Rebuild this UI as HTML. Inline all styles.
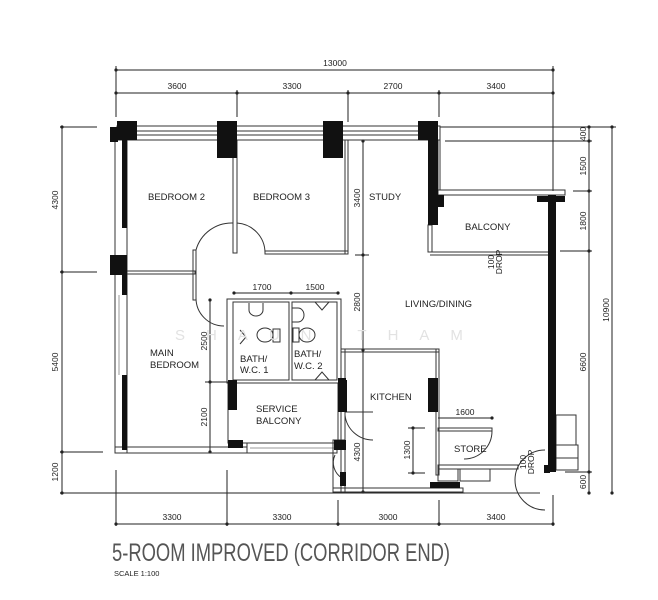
<!DOCTYPE html>
<html><head><meta charset="utf-8"><style>
html,body{margin:0;padding:0;background:#fff;}
svg{display:block}
text{font-family:"Liberation Sans",sans-serif;fill:#222}
</style></head><body>
<svg width="658" height="600" viewBox="0 0 658 600" xmlns="http://www.w3.org/2000/svg">
<g stroke="#222" stroke-width="1" fill="none">
<line x1="116" y1="70" x2="553" y2="70"/>
<line x1="116" y1="93" x2="553" y2="93"/>
<line x1="116" y1="66" x2="116" y2="117"/>
<line x1="237" y1="90" x2="237" y2="117"/>
<line x1="348" y1="90" x2="348" y2="122"/>
<line x1="439" y1="90" x2="439" y2="117"/>
<line x1="553" y1="66" x2="553" y2="191"/>
<line x1="116" y1="524" x2="553" y2="524"/>
<line x1="116" y1="470" x2="116" y2="526"/>
<line x1="227" y1="470" x2="227" y2="526"/>
<line x1="338" y1="500" x2="338" y2="526"/>
<line x1="439" y1="500" x2="439" y2="526"/>
<line x1="553" y1="495" x2="553" y2="526"/>
<line x1="62" y1="127" x2="62" y2="493"/>
<line x1="60" y1="127" x2="97" y2="127"/>
<line x1="60" y1="272" x2="97" y2="272"/>
<line x1="60" y1="452" x2="103" y2="452"/>
<line x1="60" y1="493" x2="540" y2="493"/>
<line x1="589" y1="127" x2="589" y2="493"/>
<line x1="612" y1="127" x2="612" y2="493"/>
<line x1="440" y1="127" x2="616" y2="127"/>
<line x1="445" y1="141" x2="592" y2="141"/>
<line x1="573" y1="191" x2="592" y2="191"/>
<line x1="560" y1="251" x2="592" y2="251"/>
<line x1="565" y1="472" x2="592" y2="472"/>
<line x1="363" y1="141" x2="363" y2="492"/>
<line x1="355" y1="255" x2="369" y2="255"/>
<line x1="210" y1="300" x2="210" y2="452"/>
<line x1="205" y1="382" x2="228" y2="382"/>
<line x1="234" y1="293" x2="338" y2="293"/>
<line x1="438" y1="418" x2="492" y2="418"/>
<line x1="413" y1="428" x2="413" y2="473"/>
<line x1="408" y1="428" x2="425" y2="428"/>
<line x1="408" y1="473" x2="425" y2="473"/>
</g>
<g fill="#222">
<circle cx="116" cy="70" r="1.6"/><circle cx="553" cy="70" r="1.6"/>
<circle cx="116" cy="93" r="1.6"/><circle cx="237" cy="93" r="1.6"/><circle cx="348" cy="93" r="1.6"/><circle cx="439" cy="93" r="1.6"/><circle cx="553" cy="93" r="1.6"/>
<circle cx="116" cy="524" r="1.6"/><circle cx="227" cy="524" r="1.6"/><circle cx="338" cy="524" r="1.6"/><circle cx="439" cy="524" r="1.6"/><circle cx="553" cy="524" r="1.6"/>
<circle cx="62" cy="127" r="1.6"/><circle cx="62" cy="272" r="1.6"/><circle cx="62" cy="452" r="1.6"/><circle cx="62" cy="493" r="1.6"/>
<circle cx="589" cy="127" r="1.6"/><circle cx="589" cy="141" r="1.6"/><circle cx="589" cy="191" r="1.6"/><circle cx="589" cy="251" r="1.6"/><circle cx="589" cy="472" r="1.6"/><circle cx="589" cy="493" r="1.6"/>
<circle cx="612" cy="127" r="1.6"/><circle cx="612" cy="493" r="1.6"/>
<circle cx="363" cy="141" r="1.6"/><circle cx="363" cy="255" r="1.6"/><circle cx="363" cy="350" r="1.6"/><circle cx="363" cy="492" r="1.6"/>
<circle cx="210" cy="300" r="1.6"/><circle cx="210" cy="382" r="1.6"/><circle cx="210" cy="452" r="1.6"/>
<circle cx="234" cy="293" r="1.6"/><circle cx="291" cy="293" r="1.6"/><circle cx="338" cy="293" r="1.6"/>
<circle cx="492" cy="418" r="1.6"/><circle cx="413" cy="428" r="1.6"/><circle cx="413" cy="473" r="1.6"/>
</g>
<g stroke="#333" stroke-width="1" fill="none">
<rect x="117" y="126" width="323" height="14"/>
<line x1="137" y1="131" x2="418" y2="131"/><line x1="137" y1="135" x2="418" y2="135"/>
<rect x="115" y="140" width="12" height="313"/>
<line x1="119" y1="295" x2="119" y2="375" stroke="#999"/>
<rect x="115" y="447" width="132" height="6"/>
<rect x="247" y="443" width="90" height="10"/>
<line x1="250" y1="448" x2="334" y2="448" stroke="#999"/>
<rect x="233" y="140" width="4" height="113"/>
<rect x="127" y="271" width="68" height="3"/>
<rect x="193" y="250" width="3" height="50"/>
<rect x="265" y="251" width="83" height="3"/>
<rect x="345" y="140" width="3" height="114"/>
<rect x="227" y="299" width="114" height="84"/>
<rect x="233" y="302" width="56" height="78"/>
<rect x="292" y="302" width="45" height="78"/>
<rect x="228" y="383" width="110" height="60"/>
<rect x="341" y="349" width="98" height="3"/>
<rect x="341" y="349" width="4" height="143"/>
<rect x="436" y="349" width="3" height="126"/>
<rect x="333" y="440" width="12" height="52"/>
<rect x="333" y="488" width="130" height="4"/>
<rect x="438" y="428" width="54" height="3"/>
<rect x="438" y="465" width="80" height="4"/>
<rect x="438" y="469" width="20" height="12"/>
<rect x="460" y="469" width="30" height="12"/>
<line x1="465" y1="493" x2="540" y2="493"/>
<rect x="438" y="190" width="127" height="5"/>
<rect x="438" y="140" width="2" height="50"/>
<rect x="428" y="225" width="4" height="27"/>
<line x1="430" y1="252" x2="550" y2="252"/>
<line x1="430" y1="255" x2="550" y2="255"/>
<rect x="556" y="415" width="20" height="30"/>
<rect x="556" y="445" width="22" height="25"/>
<line x1="556" y1="458" x2="578" y2="458"/>
<!-- fixtures -->
<path d="M249 303 L249 310 A7 6 0 0 0 263 310 L263 303"/>
<ellipse cx="265" cy="335" rx="8" ry="7"/>
<rect x="273" y="329" width="7" height="13"/>
<path d="M240 330 L246 337 L240 344"/>
<path d="M292 308 L298 308 A6 7 0 0 1 298 322 L292 322"/>
<ellipse cx="307" cy="335" rx="8" ry="7"/>
<rect x="293" y="328" width="6" height="14"/>
<path d="M315 302 L322 310 L329 302"/>
<path d="M315 380 L322 372 L329 380"/>
</g>
<g stroke="#333" stroke-width="1" fill="none">
<path d="M196 250 A37 37 0 0 1 233 223 L233 253"/>
<path d="M237 223 A30 30 0 0 1 265 253"/>
<path d="M196 298 A28 28 0 0 0 224 326"/>
<path d="M345 415 A28 28 0 0 0 373 440"/>
<line x1="345" y1="412" x2="373" y2="412"/>
<path d="M492 431 A28 28 0 0 1 464 459"/>
<path d="M545 450 A30 30 0 0 0 515 480 A30 30 0 0 0 545 510"/>
<path d="M335 455 A18 18 0 0 0 342 478"/>
</g>
<g fill="#111">
<rect x="117" y="121" width="20" height="19"/><rect x="110" y="127" width="8" height="15"/>
<rect x="217" y="121" width="20" height="37"/>
<rect x="323" y="121" width="20" height="37"/>
<rect x="418" y="121" width="20" height="19"/>
<rect x="428" y="140" width="10" height="85"/>
<rect x="434" y="195" width="10" height="12"/>
<rect x="122" y="140" width="5" height="88"/>
<rect x="110" y="255" width="17" height="20"/>
<rect x="122" y="275" width="5" height="20"/>
<rect x="122" y="375" width="5" height="75"/>
<rect x="228" y="380" width="9" height="30"/>
<rect x="338" y="380" width="9" height="32"/>
<rect x="228" y="440" width="15" height="8"/>
<rect x="334" y="440" width="12" height="10"/>
<rect x="338" y="378" width="8" height="34"/>
<rect x="428" y="378" width="10" height="34"/>
<rect x="340" y="472" width="6" height="14"/>
<rect x="430" y="482" width="30" height="6"/>
<rect x="548" y="195" width="8" height="277"/>
<rect x="537" y="196" width="28" height="6"/>
<rect x="544" y="465" width="6" height="8"/>
</g>
<text x="175" y="340" font-size="15" style="fill:#e2e2e2;letter-spacing:21px">SHAUN THAM</text>
<g font-size="9.5">
<text x="148" y="200">BEDROOM 2</text>
<text x="253" y="200">BEDROOM 3</text>
<text x="369" y="200">STUDY</text>
<text x="465" y="230">BALCONY</text>
<text x="405" y="307">LIVING/DINING</text>
<text x="150" y="356">MAIN</text>
<text x="150" y="368">BEDROOM</text>
<text x="240" y="362">BATH/</text>
<text x="240" y="373">W.C.  1</text>
<text x="294" y="357">BATH/</text>
<text x="294" y="369">W.C.  2</text>
<text x="256" y="412">SERVICE</text>
<text x="256" y="424">BALCONY</text>
<text x="370" y="400">KITCHEN</text>
<text x="454" y="452">STORE</text>
</g>
<g font-size="8.5" text-anchor="middle">
<text x="335" y="66">13000</text>
<text x="177" y="89">3600</text>
<text x="292" y="89">3300</text>
<text x="393" y="89">2700</text>
<text x="496" y="89">3400</text>
<text x="172" y="520">3300</text>
<text x="282" y="520">3300</text>
<text x="388" y="520">3000</text>
<text x="496" y="520">3400</text>
<text x="262" y="290">1700</text>
<text x="315" y="290">1500</text>
<text x="465" y="415">1600</text>
<text transform="translate(58,200) rotate(-90)">4300</text>
<text transform="translate(58,362) rotate(-90)">5400</text>
<text transform="translate(58,472) rotate(-90)">1200</text>
<text transform="translate(586,134) rotate(-90)">400</text>
<text transform="translate(586,166) rotate(-90)">1500</text>
<text transform="translate(586,221) rotate(-90)">1800</text>
<text transform="translate(586,362) rotate(-90)">6600</text>
<text transform="translate(586,482) rotate(-90)">600</text>
<text transform="translate(609,310) rotate(-90)">10900</text>
<text transform="translate(360,198) rotate(-90)">3400</text>
<text transform="translate(360,302) rotate(-90)">2800</text>
<text transform="translate(360,452) rotate(-90)">4300</text>
<text transform="translate(207,341) rotate(-90)">2500</text>
<text transform="translate(207,417) rotate(-90)">2100</text>
<text transform="translate(410,450) rotate(-90)">1300</text>
<text transform="translate(494,262) rotate(-90)">100</text>
<text transform="translate(502,262) rotate(-90)">DROP</text>
<text transform="translate(526,462) rotate(-90)">100</text>
<text transform="translate(534,462) rotate(-90)">DROP</text>
</g>
<text x="112" y="561" font-size="25" textLength="338" lengthAdjust="spacingAndGlyphs" style="fill:#555">5-ROOM IMPROVED (CORRIDOR END)</text>
<text x="114" y="576" font-size="7.5">SCALE   1:100</text>
</svg>
</body></html>
